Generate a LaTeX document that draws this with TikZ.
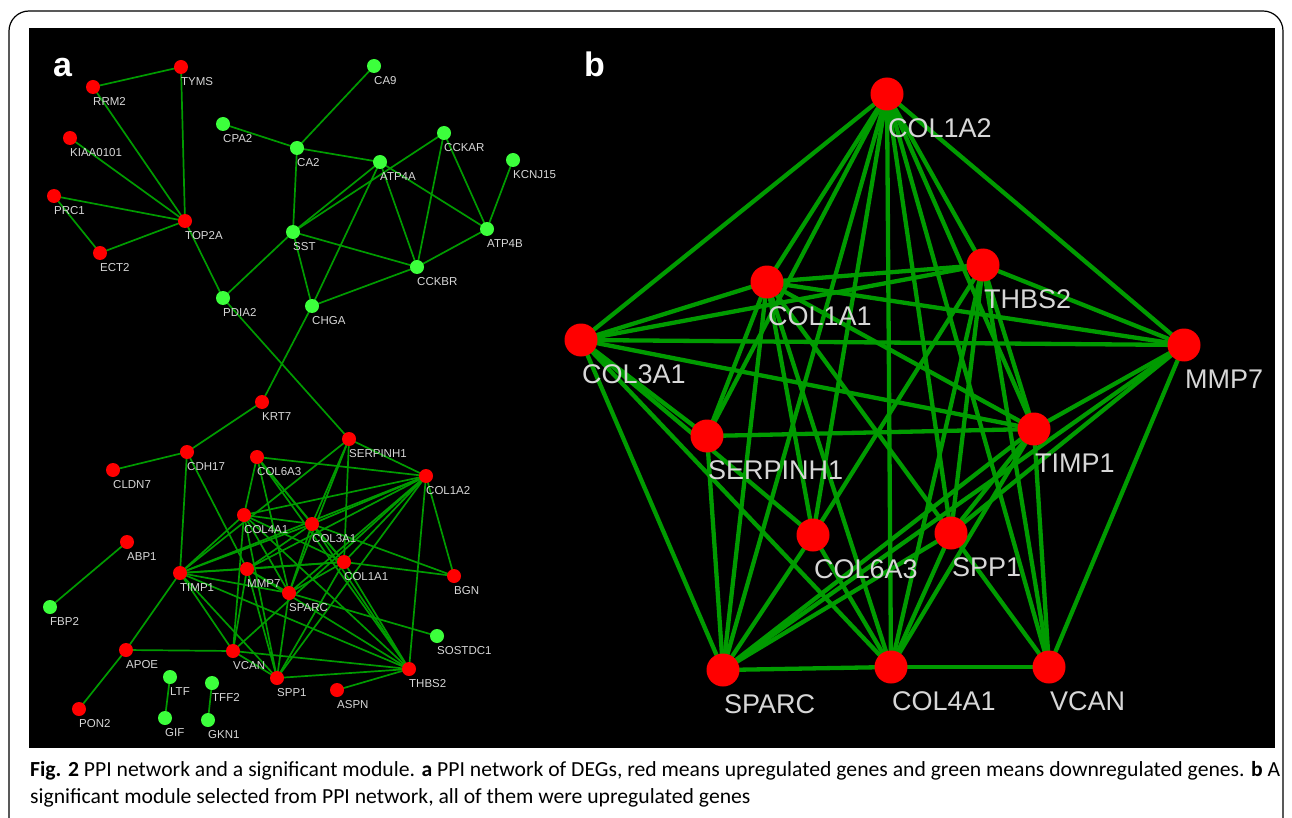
\documentclass[tikz,border=0pt]{standalone}
\usepackage{fontspec}
\setmainfont{Liberation Sans}
\newfontfamily\capfont{Carlito}
\usetikzlibrary{calc}
\definecolor{ngreen}{RGB}{60,255,60}
\definecolor{egreen}{RGB}{0,155,0}
\definecolor{lgray}{RGB}{215,215,215}
\newsavebox\capboxA
\newlength\capwA
\begin{document}
\sbox\capboxA{\capfont\fontsize{21.5}{24}\selectfont\textbf{Fig. 2} PPI network and a significant module. \textbf{a} PPI network of DEGs, red means upregulated genes and green means downregulated genes. \textbf{b} A}%
\setlength\capwA{\wd\capboxA}%
\pgfmathsetmacro\capsc{1250/\capwA}%
\begin{tikzpicture}[x=1pt,y=-1pt,
  ra/.style={circle,fill=red,minimum size=14pt,inner sep=0pt},
  ga/.style={circle,fill=ngreen,minimum size=14pt,inner sep=0pt},
  rb/.style={circle,fill=red,minimum size=33pt,inner sep=0pt},
  ea/.style={draw=egreen,line width=1.7pt},
  eb/.style={draw=egreen,line width=4.3pt},
  lab/.style={text=lgray,font=\fontsize{11.5}{12}\selectfont,anchor=north west,inner sep=0pt,yshift=-3pt},
  labb/.style={text=lgray,font=\fontsize{27}{28}\selectfont,anchor=north west,inner sep=0pt,yshift=-8pt,xshift=1pt},
  la/.style={label={[lab]south:#1}},
  lb/.style={label={[labb]south:#1}},
  panel/.style={font=\bfseries\fontsize{34}{34}\selectfont,text=white,anchor=base west,inner sep=0pt}]
\useasboundingbox (0,0) rectangle (1292,818);
\fill[white] (0,0) rectangle (1292,818);
\draw[line width=1.2pt,rounded corners=20pt] (9,11) rectangle (1283,838);
\fill[black] (29,28) rectangle (1275,748);
\node[panel] (pa) at (53,77) {a};
\node[panel] (pb) at (584,77) {b};
% coordinates
\foreach \n/\x/\y in {
 RRM2/93/87, TYMS/181/67, KIAA/70/138, PRC1/54/196,
 TOP2A/185/221, ECT2/100/253, CPA2/223/124, CA9/374/66,
 CA2/297/148, ATP4A/380/162, CCKAR/444/133, KCNJ15/513/160,
 ATP4B/487/229, SST/293/232, CCKBR/417/267, PDIA2/223/298,
 CHGA/312/306, KRT7/262/402, CDH17/187/452, CLDN7/113/470,
 ABP1/127/542, FBP2/50/607, APOE/126/650, PON2/79/709,
 LTF/170/677, GIF/165/718, TFF2/212/683, GKN1/208/720,
 BGN/454/576, SOSTDC1/437/636, ASPN/337/690,
 aC6/257/457, aC4/244/515, aTI/180/573, aM7/247/569,
 aVC/233/651, aSE/349/439, aA2/426/476, aC3/312/524,
 aA1/344/562, aSA/289/593, aSP1/277/678, aT2/409/669,
 bA2/887/94, bT2/983/265, bA1/767/282, bC3/581/340, bM7/1184/345,
 bSE/707/436, bTI/1034/429, bC6/813/535, bSP1/951/533,
 bSA/723/670, bC4/891/667, bVC/1049/667}
 {\coordinate (\n) at (\x,\y);}
% panel a edges outside the module
\foreach \u/\v in {RRM2/TYMS, RRM2/TOP2A, TYMS/TOP2A, KIAA/TOP2A, PRC1/TOP2A, PRC1/ECT2, ECT2/TOP2A,
 TOP2A/PDIA2, PDIA2/aSE, CPA2/CA2, CA9/CA2, CA2/ATP4A, CA2/SST, SST/ATP4A, SST/CCKAR, SST/CCKBR,
 SST/PDIA2, SST/CHGA, ATP4A/CHGA, ATP4A/CCKBR, ATP4A/ATP4B, CCKAR/CCKBR, CCKAR/ATP4B, KCNJ15/ATP4B,
 ATP4B/CCKBR, CHGA/CCKBR, CHGA/KRT7, KRT7/CDH17, CDH17/CLDN7, CDH17/aTI, CDH17/aM7, ABP1/FBP2,
 APOE/aTI, APOE/aVC, APOE/PON2, LTF/GIF, TFF2/GKN1, ASPN/aT2, SOSTDC1/aSA, BGN/aA2, BGN/aA1, BGN/aC3}
 {\draw[ea] (\u) -- (\v);}
% module edges (both panels)
\foreach \u/\v in {A2/C3, A2/A1, A2/SE, A2/SA, A2/C6, A2/C4, A2/SP1, A2/VC, A2/TI, A2/T2, A2/M7,
 A1/C3, A1/T2, A1/M7, A1/TI, A1/SE, A1/SA, A1/C6, A1/C4, A1/SP1,
 C3/T2, C3/M7, C3/TI, C3/SE, C3/SA, C3/C6, C3/C4,
 T2/M7, T2/TI, T2/SP1, T2/C4, T2/VC, T2/C6,
 M7/TI, M7/VC, M7/SA, M7/SP1,
 TI/SE, TI/SA, TI/C4, TI/SP1, TI/VC,
 SE/SA, C6/SA, C6/C4, SP1/SA, SP1/C4, SP1/VC, SA/C4, C4/VC}
 {\draw[ea] (a\u) -- (a\v); \draw[eb] (b\u) -- (b\v);}
% nodes on top
\foreach \n/\s/\t in {
 RRM2/ra/RRM2, TYMS/ra/TYMS, KIAA/ra/KIAA0101, PRC1/ra/PRC1,
 TOP2A/ra/TOP2A, ECT2/ra/ECT2, CPA2/ga/CPA2, CA9/ga/CA9,
 CA2/ga/CA2, ATP4A/ga/ATP4A, CCKAR/ga/CCKAR, KCNJ15/ga/KCNJ15,
 ATP4B/ga/ATP4B, SST/ga/SST, CCKBR/ga/CCKBR, PDIA2/ga/PDIA2,
 CHGA/ga/CHGA, KRT7/ra/KRT7, CDH17/ra/CDH17, CLDN7/ra/CLDN7,
 ABP1/ra/ABP1, FBP2/ga/FBP2, APOE/ra/APOE, PON2/ra/PON2,
 LTF/ga/LTF, GIF/ga/GIF, TFF2/ga/TFF2, GKN1/ga/GKN1,
 BGN/ra/BGN, SOSTDC1/ga/SOSTDC1, ASPN/ra/ASPN,
 aC6/ra/COL6A3, aC4/ra/COL4A1, aTI/ra/TIMP1, aM7/ra/MMP7,
 aVC/ra/VCAN, aSE/ra/SERPINH1, aA2/ra/COL1A2, aC3/ra/COL3A1,
 aA1/ra/COL1A1, aSA/ra/SPARC, aSP1/ra/SPP1, aT2/ra/THBS2}
 {\node[\s,la=\t] (n\n) at (\n) {};}
\foreach \n/\t in {
 bA2/COL1A2, bT2/THBS2, bA1/COL1A1, bC3/COL3A1, bM7/MMP7,
 bSE/SERPINH1, bTI/TIMP1, bC6/COL6A3, bSP1/SPP1,
 bSA/SPARC, bC4/COL4A1, bVC/VCAN}
 {\node[rb,lb=\t] (n\n) at (\n) {};}
% caption
\node[anchor=base west,inner sep=0pt] (cap1) at (30,776) {\scalebox{\capsc}[1]{\usebox\capboxA}};
\node[anchor=base west,inner sep=0pt] (cap2) at (30,803) {\scalebox{\capsc}[1]{\capfont\fontsize{21.5}{24}\selectfont significant module selected from PPI network, all of them were upregulated genes}};
\end{tikzpicture}
\end{document}
